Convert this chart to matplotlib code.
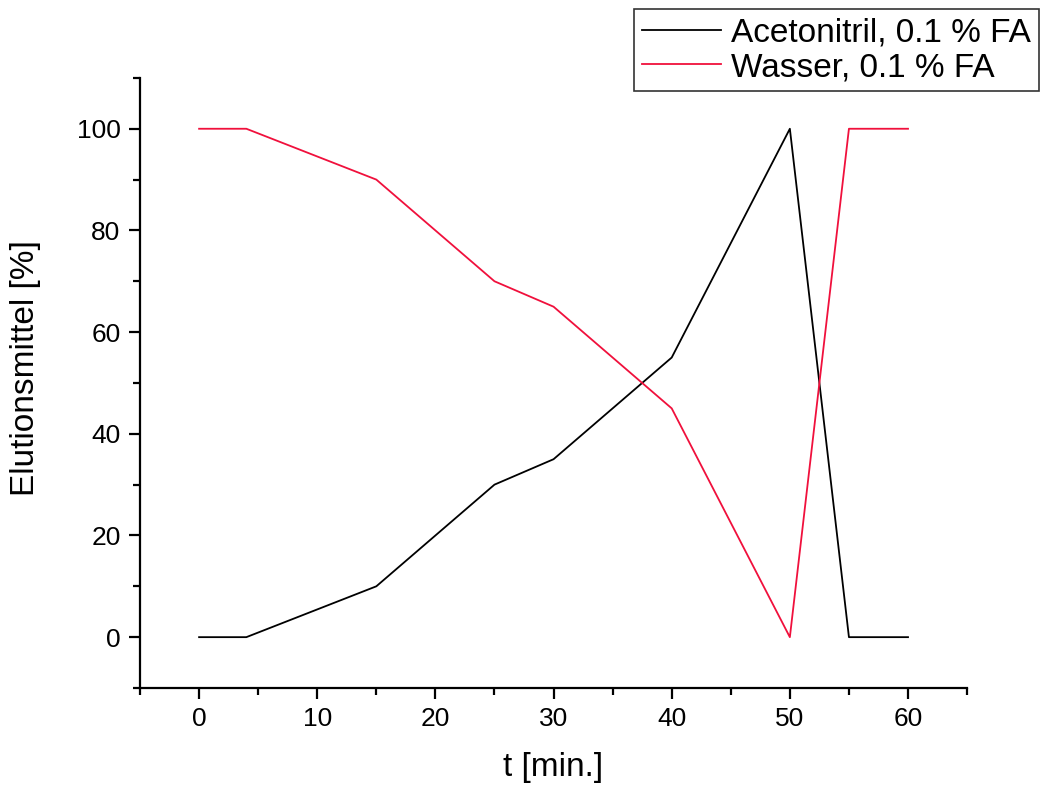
import matplotlib
matplotlib.use("Agg")
import matplotlib.pyplot as plt
from matplotlib.ticker import MultipleLocator

t_min = [0, 4, 15, 25, 30, 40, 50, 55, 60]
acetonitril = [0, 0, 10, 30, 35, 55, 100, 0, 0]
wasser = [100, 100, 90, 70, 65, 45, 0, 100, 100]
labels = ["Acetonitril, 0.1 % FA", "Wasser, 0.1 % FA"]

plt.rcParams['font.family'] = ['Liberation Sans', 'DejaVu Sans']

fig = plt.figure(figsize=(10.41, 7.87), dpi=100)
ax = fig.add_axes([0.1345, 0.1258, 0.7945, 0.7752])

l1, = ax.plot(t_min, acetonitril, color='black', lw=1.3)
l2, = ax.plot(t_min, wasser, color='#f0103c', lw=1.3)

ax.set_xlim(-5, 65)
ax.set_ylim(-10, 110)
ax.xaxis.set_major_locator(MultipleLocator(10))
ax.xaxis.set_minor_locator(MultipleLocator(5))
ax.yaxis.set_major_locator(MultipleLocator(20))
ax.yaxis.set_minor_locator(MultipleLocator(10))
for s in ['top', 'right']:
    ax.spines[s].set_visible(False)
for s in ['left', 'bottom']:
    ax.spines[s].set_linewidth(1.6)
ax.tick_params(which='major', direction='out', length=8, width=1.6, labelsize=19, pad=6)
ax.tick_params(which='minor', direction='out', length=5, width=1.6)

ax.set_xlabel("t [min.]", fontsize=24, labelpad=15)
ax.set_ylabel("Elutionsmittel [%]", fontsize=24)
ax.yaxis.set_label_coords(-0.12, 0.524)

leg = fig.legend([l1, l2], labels, loc='upper right', bbox_to_anchor=(0.998, 0.988),
                 fontsize=24, frameon=True, fancybox=False, edgecolor='black',
                 handlelength=2.35, handletextpad=0.3, borderpad=0.25, labelspacing=0.1,
                 borderaxespad=0)
leg.get_frame().set_linewidth(1.2)

fig.savefig("out.png", dpi=100)
